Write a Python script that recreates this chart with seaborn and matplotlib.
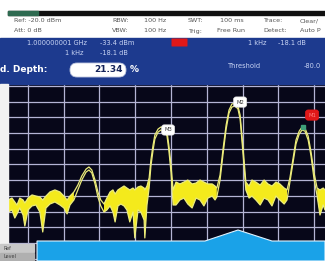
import numpy as np
import pandas as pd
import matplotlib
matplotlib.use("Agg")
import matplotlib.pyplot as plt
import seaborn as sns
from matplotlib.patches import Rectangle, FancyBboxPatch, Polygon

# Trace data: frequency offset from 1 GHz (Hz) and trace envelope (dBm)
freq_hz = [-455, -444, -436, -430, -422, -413, -408, -399, -388, -377, -366, -358,
           -349, -338, -324, -310, -299, -290, -282, -271, -260, -249, -237, -229,
           -221, -212, -204, -196, -187, -179, -170, -162, -156, -148, -140, -131,
           -123, -115, -106, -101, -92, -84, -75, -73, -67, -61, -56, -50, -45, -36,
           -28, -20, -11, -6, 0, 6, 14, 25, 36, 47, 59, 70, 81, 92, 103, 115, 123,
           128, 137, 145, 154, 162, 170, 179, 187, 193, 198, 204, 209, 218, 226, 237,
           249, 260, 271, 282, 293, 304, 316, 324, 332, 341, 349, 358, 366, 374, 383,
           391, 399, 408, 416, 425, 430]
trace_max = [-92.6, -91.4, -93.9, -95.8, -91.4, -92.6, -94.5, -91.4, -89.4, -90.1, -90.7, -92.6,
             -90.1, -87.5, -86.2, -87.5, -90.1, -92.6, -90.1, -87.5, -83.1, -77.3, -72.9, -71.6,
             -73.5, -79.9, -87.5, -92.6, -95.2, -91.4, -87.5, -86.2, -88.8, -86.2, -85.0, -83.7,
             -85.0, -86.2, -85.0, -86.2, -84.3, -83.7, -85.0, -86.2, -83.7, -78.6, -67.1, -57.6, -51.2, -47.4,
             -46.1, -46.8, -49.3, -57.6, -70.3, -86.2, -81.2, -82.4, -81.2, -79.9, -82.4, -81.8, -79.9, -81.2, -82.4, -82.4, -83.7,
             -85.0, -76.7, -60.8, -44.8, -35.3, -31.5, -30.8, -32.7, -38.5, -51.2, -67.1, -81.2, -83.7, -79.9, -81.2,
             -83.1, -79.9, -82.4, -83.7, -81.2, -82.4, -85.0, -86.2, -78.6, -65.9, -54.4, -48.7, -46.1, -46.8, -51.9,
             -62.0, -74.8, -85.0, -86.2, -85.0, -86.2]
trace_min = [-100.3, -99.0, -104.1, -101.5, -97.7, -102.2, -109.2, -99.0, -96.4, -95.8, -100.3, -113.0,
             -97.7, -95.2, -93.9, -95.8, -97.7, -101.5, -95.8, -92.6, -86.2, -79.9, -74.8, -73.5,
             -75.4, -82.4, -90.7, -96.4, -100.3, -99.0, -96.4, -100.3, -106.6, -96.4, -95.2, -96.4,
             -99.0, -106.6, -100.3, -116.8, -99.0, -100.3, -105.4, -116.8, -95.8, -85.0, -71.0, -60.8, -53.8, -49.3,
             -48.0, -48.7, -51.9, -60.8, -74.8, -95.8, -95.8, -92.6, -91.4, -95.2, -97.7, -91.4, -92.6, -96.4, -91.4, -90.1, -92.6,
             -90.7, -79.9, -64.0, -47.4, -37.2, -33.4, -32.7, -34.6, -41.0, -54.4, -71.0, -86.2, -91.4, -90.1, -92.6,
             -95.8, -91.4, -92.6, -96.4, -90.1, -92.6, -95.2, -92.6, -81.2, -68.4, -56.9, -50.6, -48.0, -48.7, -54.4,
             -64.6, -78.6, -90.1, -102.2, -95.8, -99.0]

# Markers (Hz, dBm)
marker_names = ["M3", "M2", "", "M1"]
marker_freq = [-8, 193, 369, 394]
marker_level = [-48.0, -30.2, -46.1, -38.5]
marker_colors = ["white", "white", "#3fa07a", "#e01818"]

grid_freq = [-400, -300, -200, -100, 0, 100, 200, 300, 400]
grid_level = [-20, -30, -40, -50, -60, -70, -80, -90, -100, -110, -120, -130]

df = pd.DataFrame({"freq": freq_hz, "max": trace_max, "min": trace_min})

sns.set_theme(style="dark")
plt.rcParams["font.family"] = ["DejaVu Sans"]

fig = plt.figure(figsize=(3.25, 2.61), dpi=100)
fig.patch.set_facecolor("white")

# zone du spectre
ax = fig.add_axes([8 / 325, 0, 317 / 325, 177 / 261])
ax.set_facecolor("#070719")
for f in grid_freq:
    ax.axvline(f, color="#b4b4d4", lw=0.9, zorder=1)
for l in grid_level:
    ax.axhline(l, color="#b4b4d4", lw=0.9, zorder=1)
yellow = "#f4ea1c"
thick = (df["max"] - df["min"]) > 4
ax.fill_between(df["freq"], df["max"], df["min"], where=thick, color=yellow, lw=0, zorder=3)
sns.lineplot(data=df, x="freq", y="max", ax=ax, color="#ecec7a", lw=0.9, zorder=4)
sns.lineplot(data=df, x="freq", y="min", ax=ax, color="#ecec7a", lw=0.9, zorder=4)
for name, f, l, c in zip(marker_names, marker_freq, marker_level, marker_colors):
    if c == "#3fa07a":
        ax.plot(f, l, marker="s", ms=3, color=c, zorder=6)
    else:
        ax.text(f, l, name, fontsize=3.8, color="#333333" if c == "white" else "#ff8080",
                ha="center", va="center", zorder=6,
                bbox=dict(boxstyle="round,pad=0.5", fc=c, ec="#dddddd" if c == "white" else c, lw=0.5))
ax.set_xlim(-455, 430)
ax.set_ylim(-131.5, -18.7)
ax.set_xticks([])
ax.set_yticks([])
ax.set_xlabel("")
ax.set_ylabel("")
for s in ax.spines.values():
    s.set_visible(False)

# decorations de l'ecran (coordonnees en pixels)
ov = fig.add_axes([0, 0, 1, 1], zorder=5)
ov.set_xlim(0, 325)
ov.set_ylim(261, 0)
ov.axis("off")
ov.patch.set_alpha(0)
ov.add_patch(Rectangle((0, 0), 325, 38, color="white"))
ov.add_patch(Rectangle((8, 11), 317, 4, color="#101010"))
ov.add_patch(Rectangle((8, 11), 30, 4, color="#2e6a50"))
ov.add_patch(Rectangle((0, 38), 325, 46, color="#1d3a8e"))
ov.add_patch(Rectangle((0, 84), 8, 160, color="#f2f2f2"))

hdr = dict(fontsize=4.6, color="#555555", va="center")
for x, t in [(14, "Ref: -20.0 dBm"), (112, "RBW:"), (144, "100 Hz"), (188, "SWT:"),
             (220, "100 ms"), (263, "Trace:"), (300, "Clear/")]:
    ov.text(x, 21, t, **hdr)
for x, t in [(14, "Att: 0 dB"), (112, "VBW:"), (144, "100 Hz"), (188, "Trig:"),
             (217, "Free Run"), (263, "Detect:"), (300, "Auto P")]:
    ov.text(x, 31, t, **hdr)

pan = dict(fontsize=4.8, color="#c8d4f4", va="center")
ov.text(27, 43, "1.000000001 GHz", **pan)
ov.text(100, 43, "-33.4 dBm", **pan)
ov.text(248, 43, "1 kHz", **pan)
ov.text(278, 43, "-18.1 dB", **pan)
ov.text(65, 53, "1 kHz", **pan)
ov.text(100, 53, "-18.1 dB", **pan)
ov.add_patch(FancyBboxPatch((172, 39), 15, 7, boxstyle="round,pad=0.5", fc="#e01818", ec="none"))
ov.text(0, 70, "d. Depth:", fontsize=6.5, color="white", fontweight="bold", va="center")
ov.add_patch(FancyBboxPatch((70, 63), 56, 14, boxstyle="round,pad=0,rounding_size=7", fc="white", ec="#c0c8e0", lw=0.6))
ov.text(123, 70, "21.34", fontsize=6.5, color="#14235a", fontweight="bold", ha="right", va="center")
ov.text(130, 70, "%", fontsize=6.5, color="white", fontweight="bold", va="center")
ov.text(228, 66, "Threshold", **pan)
ov.text(304, 66, "-80.0", **pan)

# panneau du bas
ov.add_patch(Polygon([(37, 261), (37, 241), (205, 241), (238, 230), (272, 241), (325, 241), (325, 261)],
                     closed=True, fc="#1aa2e8", ec="#dff2ff", lw=0.8))
ov.add_patch(Rectangle((0, 244), 34, 8, color="#c8c8c8"))
ov.add_patch(Rectangle((0, 253), 34, 8, color="#b0b0b0"))
ov.text(3, 248, "Ref", fontsize=3.5, color="#404040", va="center")
ov.text(3, 257, "Level", fontsize=3.5, color="#404040", va="center")

plt.savefig("out.png", dpi=100)
